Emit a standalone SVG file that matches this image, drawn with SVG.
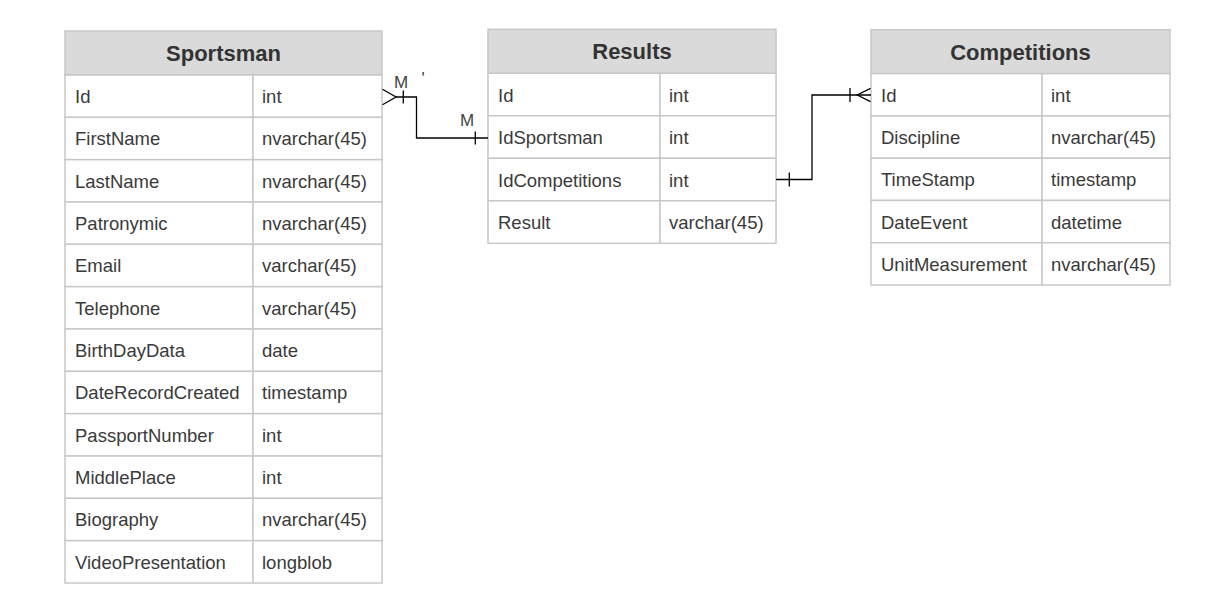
<svg xmlns="http://www.w3.org/2000/svg" width="1215" height="610" viewBox="0 0 1215 610">
<style>
.hdr{fill:#dadada;stroke:#c8c8c8;stroke-width:1.5}
.cell{fill:#ffffff;stroke:#c8c8c8;stroke-width:1.5}
.ht{font-family:"Liberation Sans",Arial,sans-serif;font-size:22px;font-weight:bold;fill:#333333;text-anchor:middle}
.t{font-family:"Liberation Sans",Arial,sans-serif;font-size:18.5px;fill:#3a3a3a}
.conn{fill:none;stroke:#000000;stroke-width:1.3}
.lbl{font-family:"Liberation Sans",Arial,sans-serif;font-size:17px;fill:#444444}
</style>
<rect width="1215" height="610" fill="#ffffff"/>

<g id="sportsman">
<rect class="hdr" x="65" y="31" width="317" height="44"/>
<text class="ht" x="223.5" y="60.5">Sportsman</text>
<rect class="cell" x="65" y="75" width="188" height="42.33"/><rect class="cell" x="253" y="75" width="129" height="42.33"/>
<text class="t" x="75" y="103">Id</text><text class="t" x="262" y="103">int</text>
<rect class="cell" x="65" y="117.33" width="188" height="42.33"/><rect class="cell" x="253" y="117.33" width="129" height="42.33"/>
<text class="t" x="75" y="145.3">FirstName</text><text class="t" x="262" y="145.3">nvarchar(45)</text>
<rect class="cell" x="65" y="159.67" width="188" height="42.33"/><rect class="cell" x="253" y="159.67" width="129" height="42.33"/>
<text class="t" x="75" y="187.7">LastName</text><text class="t" x="262" y="187.7">nvarchar(45)</text>
<rect class="cell" x="65" y="202" width="188" height="42.33"/><rect class="cell" x="253" y="202" width="129" height="42.33"/>
<text class="t" x="75" y="230">Patronymic</text><text class="t" x="262" y="230">nvarchar(45)</text>
<rect class="cell" x="65" y="244.33" width="188" height="42.33"/><rect class="cell" x="253" y="244.33" width="129" height="42.33"/>
<text class="t" x="75" y="272.3">Email</text><text class="t" x="262" y="272.3">varchar(45)</text>
<rect class="cell" x="65" y="286.67" width="188" height="42.33"/><rect class="cell" x="253" y="286.67" width="129" height="42.33"/>
<text class="t" x="75" y="314.7">Telephone</text><text class="t" x="262" y="314.7">varchar(45)</text>
<rect class="cell" x="65" y="329" width="188" height="42.33"/><rect class="cell" x="253" y="329" width="129" height="42.33"/>
<text class="t" x="75" y="357">BirthDayData</text><text class="t" x="262" y="357">date</text>
<rect class="cell" x="65" y="371.33" width="188" height="42.33"/><rect class="cell" x="253" y="371.33" width="129" height="42.33"/>
<text class="t" x="75" y="399.3">DateRecordCreated</text><text class="t" x="262" y="399.3">timestamp</text>
<rect class="cell" x="65" y="413.67" width="188" height="42.33"/><rect class="cell" x="253" y="413.67" width="129" height="42.33"/>
<text class="t" x="75" y="441.7">PassportNumber</text><text class="t" x="262" y="441.7">int</text>
<rect class="cell" x="65" y="456" width="188" height="42.33"/><rect class="cell" x="253" y="456" width="129" height="42.33"/>
<text class="t" x="75" y="484">MiddlePlace</text><text class="t" x="262" y="484">int</text>
<rect class="cell" x="65" y="498.33" width="188" height="42.33"/><rect class="cell" x="253" y="498.33" width="129" height="42.33"/>
<text class="t" x="75" y="526.3">Biography</text><text class="t" x="262" y="526.3">nvarchar(45)</text>
<rect class="cell" x="65" y="540.67" width="188" height="42.33"/><rect class="cell" x="253" y="540.67" width="129" height="42.33"/>
<text class="t" x="75" y="568.7">VideoPresentation</text><text class="t" x="262" y="568.7">longblob</text>
</g>

<g id="results">
<rect class="hdr" x="488" y="29.3" width="288" height="44"/>
<text class="ht" x="632" y="59">Results</text>
<rect class="cell" x="488" y="73.3" width="172" height="42.5"/><rect class="cell" x="660" y="73.3" width="116" height="42.5"/>
<text class="t" x="498" y="101.5">Id</text><text class="t" x="669" y="101.5">int</text>
<rect class="cell" x="488" y="115.8" width="172" height="42.5"/><rect class="cell" x="660" y="115.8" width="116" height="42.5"/>
<text class="t" x="498" y="144">IdSportsman</text><text class="t" x="669" y="144">int</text>
<rect class="cell" x="488" y="158.3" width="172" height="42.5"/><rect class="cell" x="660" y="158.3" width="116" height="42.5"/>
<text class="t" x="498" y="186.5">IdCompetitions</text><text class="t" x="669" y="186.5">int</text>
<rect class="cell" x="488" y="200.8" width="172" height="42.5"/><rect class="cell" x="660" y="200.8" width="116" height="42.5"/>
<text class="t" x="498" y="229">Result</text><text class="t" x="669" y="229">varchar(45)</text>
</g>

<g id="competitions">
<rect class="hdr" x="871" y="29.7" width="299" height="44"/>
<text class="ht" x="1020.5" y="59.5">Competitions</text>
<rect class="cell" x="871" y="73.7" width="171" height="42.26"/><rect class="cell" x="1042" y="73.7" width="128" height="42.26"/>
<text class="t" x="881" y="101.8">Id</text><text class="t" x="1051" y="101.8">int</text>
<rect class="cell" x="871" y="115.96" width="171" height="42.26"/><rect class="cell" x="1042" y="115.96" width="128" height="42.26"/>
<text class="t" x="881" y="144">Discipline</text><text class="t" x="1051" y="144">nvarchar(45)</text>
<rect class="cell" x="871" y="158.22" width="171" height="42.26"/><rect class="cell" x="1042" y="158.22" width="128" height="42.26"/>
<text class="t" x="881" y="186.3">TimeStamp</text><text class="t" x="1051" y="186.3">timestamp</text>
<rect class="cell" x="871" y="200.48" width="171" height="42.26"/><rect class="cell" x="1042" y="200.48" width="128" height="42.26"/>
<text class="t" x="881" y="228.6">DateEvent</text><text class="t" x="1051" y="228.6">datetime</text>
<rect class="cell" x="871" y="242.74" width="171" height="42.26"/><rect class="cell" x="1042" y="242.74" width="128" height="42.26"/>
<text class="t" x="881" y="270.9">UnitMeasurement</text><text class="t" x="1051" y="270.9">nvarchar(45)</text>
</g>

<g id="connectors">
<path class="conn" d="M396 97 H416.5 V138 H488"/>
<path class="conn" d="M382.5 89.3 L396 97 L382.5 104.7"/>
<path class="conn" d="M403.3 90.5 V103.5"/>
<path class="conn" d="M475.3 131.5 V144.5"/>
<text class="lbl" x="394" y="87.5">M</text>
<text class="lbl" x="460" y="126">M</text>
<text class="lbl" x="421.5" y="84">'</text>
<path class="conn" d="M776 179.5 H812 V95 H871"/>
<path class="conn" d="M789.3 172.5 V186.5"/>
<path class="conn" d="M850 88 V102"/>
<path class="conn" d="M870.5 88.3 L857.3 95 L870.5 101.7"/>
</g>
</svg>
